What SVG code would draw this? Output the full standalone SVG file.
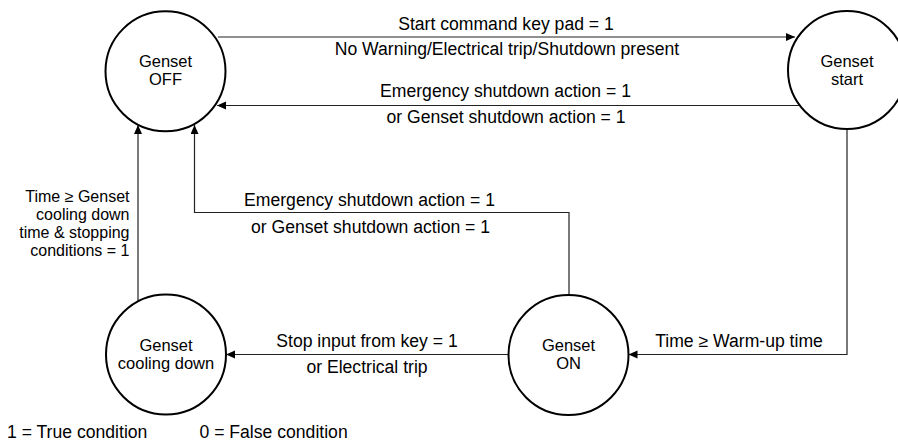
<svg xmlns="http://www.w3.org/2000/svg" width="898" height="441" viewBox="0 0 898 441">
<defs>
<marker id="arr" markerUnits="userSpaceOnUse" markerWidth="10" markerHeight="10" refX="9" refY="4" orient="auto">
<path d="M0,0 L9,4 L0,8 z" fill="#000"/>
</marker>
<style>
.node circle{fill:#fff;stroke:#000;stroke-width:2}
text{font-family:"Liberation Sans",Arial,Helvetica,sans-serif;font-size:17.6px;fill:#000}
.c{text-anchor:middle}
.node text{font-size:16.5px}
.r{text-anchor:end;font-size:16px}
.edge{fill:none;stroke:#222;stroke-width:1.2}
</style>
</defs>
<rect width="898" height="441" fill="#fff"/>
<g id="connectors">
<path class="edge" d="M218,37 L795,37" marker-end="url(#arr)"/>
<path class="edge" d="M800,105.5 L217,105.5" marker-end="url(#arr)"/>
<path class="edge" d="M569,295 L569,212.5 L194.5,212.5 L194.5,125" marker-end="url(#arr)"/>
<path class="edge" d="M138,301 L138,125" marker-end="url(#arr)"/>
<path class="edge" d="M508.5,354.5 L226,354.5" marker-end="url(#arr)"/>
<path class="edge" d="M847,129 L847,354.5 L628.5,354.5" marker-end="url(#arr)"/>
<text class="c" x="506" y="30">Start command key pad = 1</text>
<text class="c" x="507" y="55">No Warning/Electrical trip/Shutdown present</text>
<text class="c" x="505.5" y="97">Emergency shutdown action = 1</text>
<text class="c" x="506" y="123">or Genset shutdown action = 1</text>
<text class="c" x="369.5" y="206">Emergency shutdown action = 1</text>
<text class="c" x="370.5" y="233">or Genset shutdown action = 1</text>
<text class="r" x="129.5" y="201.5">Time ≥ Genset</text>
<text class="r" x="129.5" y="219.5">cooling down</text>
<text class="r" x="129.5" y="237.5">time &amp; stopping</text>
<text class="r" x="129.5" y="255.5">conditions = 1</text>
<text class="c" x="367" y="347">Stop input from key = 1</text>
<text class="c" x="367" y="372.5">or Electrical trip</text>
<text class="c" x="739" y="347">Time ≥ Warm-up time</text>
</g>
<g id="genset-off" class="node">
<circle cx="165.5" cy="71.3" r="60"/>
<text class="c" x="165.5" y="66.5">Genset</text>
<text class="c" x="165.5" y="85">OFF</text>
</g>
<g id="genset-start" class="node">
<circle cx="847" cy="70" r="59"/>
<text class="c" x="847" y="66.5">Genset</text>
<text class="c" x="847" y="85">start</text>
</g>
<g id="genset-on" class="node">
<circle cx="568.5" cy="355" r="60"/>
<text class="c" x="568.5" y="350.5">Genset</text>
<text class="c" x="568.5" y="369">ON</text>
</g>
<g id="genset-cooling" class="node">
<circle cx="166" cy="354.5" r="60"/>
<text class="c" x="166" y="350.5">Genset</text>
<text class="c" x="166" y="369">cooling down</text>
</g>
<g id="legend">
<text x="7" y="438">1 = True condition</text>
<text x="199.5" y="438">0 = False condition</text>
</g>
</svg>
